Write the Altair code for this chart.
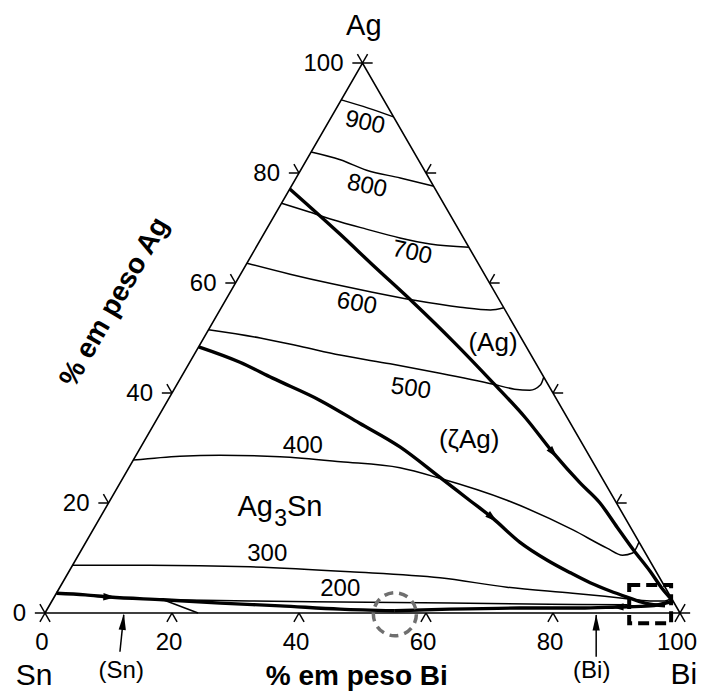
import altair as alt
import numpy as np
import pandas as pd

S = np.sqrt(3) / 2
W, H = 635, 550
FONT = "Liberation Sans"

# ---------------- data (wt% Bi, wt% Ag) ----------------
tri_bi = [0, 100, 0, 0]
tri_ag = [0, 0, 100, 0]

iso900_bi = [0, 5.0, 9.8]
iso900_ag = [93.3, 91.8, 90.2]
iso800_bi = [0, 5.3, 10.4, 16.4, 22.4]
iso800_ag = [83.8, 82.4, 80.5, 79.1, 77.6]
iso700_bi = [0, 5.2, 9.6, 15.7, 21.8, 27.1, 33.5]
iso700_ag = [74.5, 72.9, 71.5, 69.8, 68.2, 67.1, 66.5]
iso600_bi = [0, 7.8, 15.5, 22.0, 29.5, 37.6, 42.6, 44.5]
iso600_ag = [63.6, 61.6, 59.8, 58.4, 56.9, 55.6, 55.1, 55.5]
iso500_bi = [0, 8.9, 15.9, 23.0, 31.7, 40.4, 49.8, 53.6, 56.1, 57.3, 57.1]
iso500_ag = [51.5, 50.0, 48.5, 46.9, 45.3, 43.6, 41.6, 40.7, 40.5, 41.5, 42.9]
iso400_bi = [0, 7.0, 13.2, 22.8, 32.8, 42.7, 49.9, 62.5, 75.6, 82.6, 85.7, 87.1, 87.1]
iso400_ag = [27.8, 28.5, 28.7, 28.4, 27.5, 26.4, 24.5, 20.5, 15.1, 11.8, 10.5, 10.9, 12.9]
iso300_bi = [0, 12.1, 28.1, 44.3, 59.0, 70.4, 81.3, 89.6, 94.2, 96.5, 97.3]
iso300_ag = [8.7, 8.7, 8.4, 7.5, 6.4, 4.7, 3.6, 2.7, 2.2, 2.2, 2.7]
iso200sn_bi = [17.4, 24.1]
iso200sn_ag = [2.4, 0.0]
iso200_bi = [17.4, 31.2, 45.5, 62.9, 78.7, 91.0]
iso200_ag = [2.4, 2.2, 2.0, 1.8, 1.6, 1.5]

# univariant valleys (thick)
valA_bi = [0, 4.7, 8.7, 17.4, 26.7, 36.4, 46.1, 54.9]
valA_ag = [3.6, 3.3, 2.9, 2.4, 1.8, 1.3, 0.7, 0.4]
valB_bi = [54.9, 63.4, 74.3, 83.8, 89.6, 94.7, 97.4]
valB_ag = [0.4, 0.7, 0.9, 0.9, 1.1, 1.3, 2.0]
valD_bi = [0, 7.9, 14.5, 23.9, 32.3, 40.8, 49.8, 56.6, 61.8, 68.3, 74.3, 79.1, 83.1, 87.0, 90.2, 93.6, 97.0]
valD_ag = [48.4, 45.6, 42.7, 38.7, 34.5, 30.2, 24.7, 20.5, 17.3, 12.9, 9.6, 7.3, 5.5, 4.0, 2.9, 1.8, 1.3]
valE_bi = [0, 12.0, 20.5, 29.7, 39.7, 49.7, 57.9, 65.5, 72.5, 77.4, 82.3, 86.9, 91.6, 94.9, 97.5]
valE_ag = [77.1, 68.9, 62.9, 56.5, 49.3, 41.8, 35.5, 29.1, 23.6, 20.0, 15.6, 11.5, 7.5, 4.5, 2.4]

# arrows on valleys (position wt% Bi, wt% Ag; direction in degrees)
arr_bi = [8.7, 61.8, 65.5, 89.6]
arr_ag = [2.9, 17.3, 29.1, 1.1]
arr_dir = [3, 40, 50, 180]

tick_vals = [0, 20, 40, 60, 80, 100]
iso_texts = ["900", "800", "700", "600", "500", "400", "300", "200"]

# ---------------- layout (cartesian units, base = 100) ----------------
iso_lab_x = [50.4, 50.7, 57.8, 49.1, 57.6, 40.6, 35.0, 46.5]
iso_lab_y = [77.2, 67.2, 56.7, 48.7, 35.3, 26.3, 9.3, 3.8]
iso_lab_ang = [12, 12, 12, 10, 8, 0, 0, 0]


def tern(bi, ag):
    bi = np.asarray(bi, float)
    ag = np.asarray(ag, float)
    return bi + ag / 2, ag * S


def curves_df(curves):
    rows = []
    for name, (bi, ag) in curves.items():
        x, y = tern(bi, ag)
        for i, (xx, yy) in enumerate(zip(x, y)):
            rows.append({"c": name, "i": i, "x": xx, "y": yy})
    return pd.DataFrame(rows)


xs = alt.Scale(domain=[0, 100], nice=False, zero=False)
ys = alt.Scale(domain=[0, 100 * S], nice=False, zero=False)


def XY():
    return dict(x=alt.X("x:Q", scale=xs, axis=None), y=alt.Y("y:Q", scale=ys, axis=None))


edges = alt.Chart(curves_df({"tri": (tri_bi, tri_ag)})).mark_line(
    color="black", strokeWidth=1.6, strokeJoin="miter"
).encode(**XY(), detail="c:N", order="i:Q")

thin = alt.Chart(curves_df({
    "900": (iso900_bi, iso900_ag), "800": (iso800_bi, iso800_ag),
    "700": (iso700_bi, iso700_ag), "600": (iso600_bi, iso600_ag),
    "500": (iso500_bi, iso500_ag), "400": (iso400_bi, iso400_ag),
    "300": (iso300_bi, iso300_ag), "200sn": (iso200sn_bi, iso200sn_ag),
    "200": (iso200_bi, iso200_ag),
})).mark_line(color="black", strokeWidth=1.5, interpolate="monotone").encode(
    **XY(), detail="c:N", order="i:Q")

thick = alt.Chart(curves_df({
    "A": (valA_bi, valA_ag), "B": (valB_bi, valB_ag),
    "D": (valD_bi, valD_ag), "E": (valE_bi, valE_ag),
})).mark_line(color="black", strokeWidth=3.4, interpolate="monotone").encode(
    **XY(), detail="c:N", order="i:Q")

ax, ay = tern(arr_bi, arr_ag)
arrows = alt.Chart(pd.DataFrame({"x": ax, "y": ay, "a": arr_dir})).mark_point(
    shape="M1,0L-1,-0.6L-1,0.6Z", filled=True, color="black", opacity=1, size=150
).encode(**XY(), angle=alt.Angle("a:Q", scale=None))

# ticks
L = 1.6
trows = []
for k in tick_vals:
    y0 = k * S
    x0 = k / 2
    trows += [(x0, y0, x0 - L, y0), (x0, y0, x0 - L / 2, y0 + L * S)]
    x0 = 100 - k / 2
    trows += [(x0, y0, x0 + L, y0), (x0, y0, x0 + L / 2, y0 + L * S)]
    trows += [(k, 0, k - L / 2, -L * S), (k, 0, k + L / 2, -L * S)]
tdf = pd.DataFrame(trows, columns=["x", "y", "x2", "y2"])
ticks = alt.Chart(tdf).mark_rule(color="black", strokeWidth=1.5).encode(
    **XY(), x2="x2:Q", y2="y2:Q")

left_lab = alt.Chart(pd.DataFrame({"x": [k / 2 for k in tick_vals], "y": [k * S for k in tick_vals],
                                   "t": [str(k) for k in tick_vals]})).mark_text(
    font=FONT, fontSize=24, align="right", baseline="middle", dx=-19, dy=1
).encode(**XY(), text="t:N")
bot_lab = alt.Chart(pd.DataFrame({"x": tick_vals, "y": [0] * 6, "t": [str(k) for k in tick_vals]})).mark_text(
    font=FONT, fontSize=24, align="center", baseline="middle", dx=-3, dy=30
).encode(**XY(), text="t:N")

iso_lab = alt.Chart(pd.DataFrame({"x": iso_lab_x, "y": iso_lab_y, "t": iso_texts, "a": iso_lab_ang})).mark_text(
    font=FONT, fontSize=24, align="center", baseline="middle"
).encode(**XY(), text="t:N", angle=alt.Angle("a:Q", scale=None))

phase_lab = alt.Chart(pd.DataFrame({
    "x": [70.55, 66.8, 33.1, 40.9, 12.0, 86.1],
    "y": [42.5, 27.2, 16.7, 16.7, -9.1, -9.1],
    "t": ["(Ag)", "(ζAg)", "Ag", "Sn", "(Sn)", "(Bi)"],
    "s": [26, 26, 29, 29, 24, 24],
})).mark_text(font=FONT, align="center", baseline="middle").encode(
    **XY(), text="t:N", size=alt.Size("s:Q", scale=None))
sub3 = alt.Chart(pd.DataFrame({"x": [37.1], "y": [14.8], "t": ["3"]})).mark_text(
    font=FONT, fontSize=23, align="center", baseline="middle").encode(**XY(), text="t:N")

vert_lab = alt.Chart(pd.DataFrame({"x": [-1.7, 100.6, 50.2], "y": [-11.34, -11.2, 91.0],
                                   "t": ["Sn", "Bi", "Ag"], "s": [30, 30, 29]})).mark_text(
    font=FONT, align="center", baseline="alphabetic").encode(
    **XY(), text="t:N", size=alt.Size("s:Q", scale=None))

titles = alt.Chart(pd.DataFrame({"x": [49.1, 12.1], "y": [-11.34, 48.3],
                                 "t": ["% em peso Bi", "% em peso Ag"], "a": [0, 300]})).mark_text(
    font=FONT, fontSize=28, fontWeight="bold", align="center", baseline="alphabetic").encode(
    **XY(), text="t:N", angle=alt.Angle("a:Q", scale=None))

# annotation arrows (Sn) and (Bi)
ann = alt.Chart(pd.DataFrame({"x": [11.8, 86.8], "y": [-6.1, -6.9], "x2": [12.4, 86.8], "y2": [-0.3, -0.3]})).mark_rule(
    color="black", strokeWidth=1.5).encode(**XY(), x2="x2:Q", y2="y2:Q")
ann_head = alt.Chart(pd.DataFrame({"x": [12.3, 86.8], "y": [-1.4, -1.5], "a": [276, 270]})).mark_point(
    shape="M1,0L-1,-0.45L-1,0.45Z", filled=True, color="black", opacity=1, size=260
).encode(**XY(), angle=alt.Angle("a:Q", scale=None))

circle = alt.Chart(pd.DataFrame({"x": [55.1], "y": [-0.2]})).mark_point(
    shape="circle", filled=False, size=1850, stroke="#6f6f6f", strokeWidth=3.5,
    strokeDash=[9, 6], opacity=1).encode(**XY())

box = alt.Chart(pd.DataFrame({"x": [92.0], "x2": [98.6], "y": [4.4], "y2": [-1.6]})).mark_rect(
    fillOpacity=0, stroke="black", strokeWidth=4, strokeDash=[11, 6]).encode(
    **XY(), x2="x2:Q", y2="y2:Q")

chart = alt.layer(
    edges, ticks, thin, thick, arrows, left_lab, bot_lab, iso_lab, phase_lab, sub3,
    vert_lab, titles, ann, ann_head, circle, box
).properties(
    width=W, height=H,
    autosize=alt.AutoSizeParams(type="none"),
    padding={"left": 37, "top": 55, "right": 19, "bottom": 79},
).configure_view(stroke=None)

chart.save("out.html", embed_options={"renderer": "svg", "actions": False})
